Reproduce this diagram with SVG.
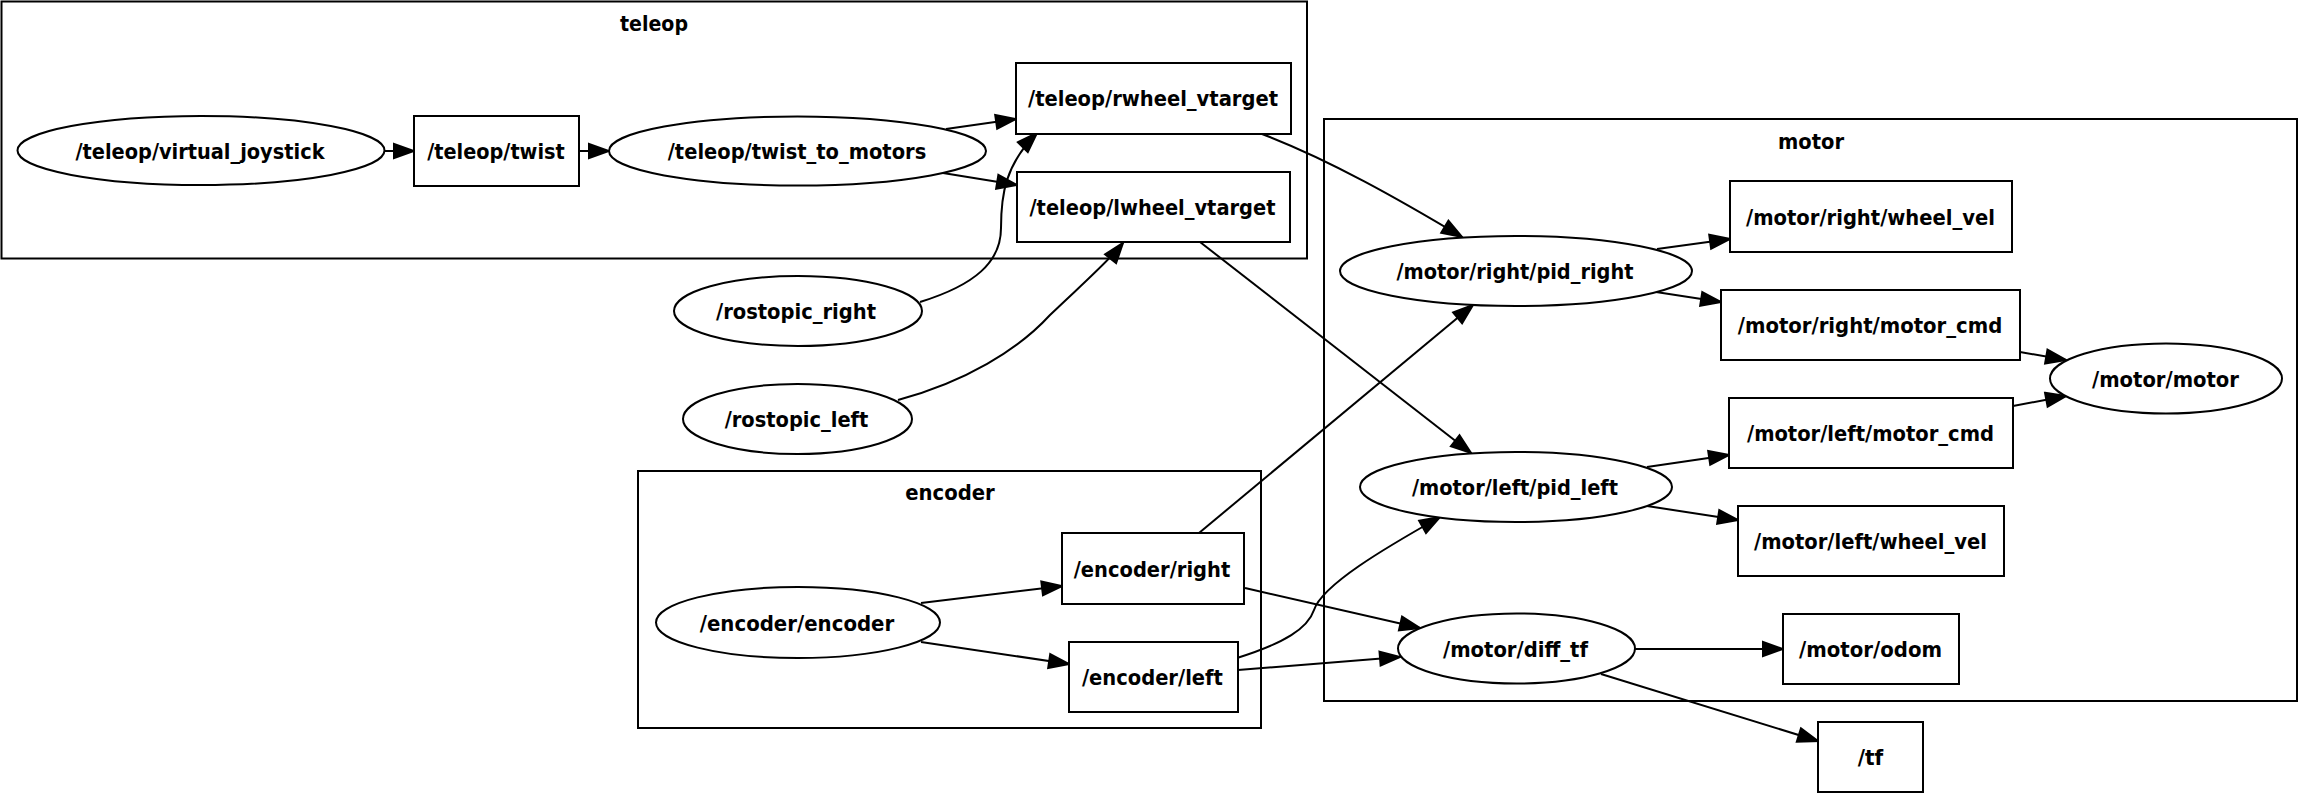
<svg xmlns="http://www.w3.org/2000/svg" width="2300" height="793" viewBox="0 0 2300 793">
<style>
  .cl { fill: none; stroke: #000; stroke-width: 2; }
  .nd { fill: #fff; stroke: #000; stroke-width: 2; }
  .ed { fill: none; stroke: #000; stroke-width: 2; marker-end: url(#arr); }
  text { font-family: "DejaVu Sans Condensed", "DejaVu Sans", sans-serif; font-stretch: condensed; font-weight: bold; font-size: 22px; text-anchor: middle; fill: #000; }
</style>
<defs>
  <marker id="arr" markerUnits="userSpaceOnUse" markerWidth="24" markerHeight="18" refX="20" refY="7" orient="auto" viewBox="-2 -2 24 18">
    <path d="M0,0 L20,7 L0,14 Z" fill="#000" stroke="#000" stroke-width="2" stroke-linejoin="miter"/>
  </marker>
</defs>
<rect width="2300" height="793" fill="#fff"/>

<g id="cluster_teleop">
  <rect class="cl" x="1.5" y="1.5" width="1305.5" height="257"/>
  <text x="654" y="31" textLength="68" lengthAdjust="spacingAndGlyphs">teleop</text>
</g>
<g id="cluster_motor">
  <rect class="cl" x="1324" y="119" width="973" height="582"/>
  <text x="1811" y="149" textLength="66" lengthAdjust="spacingAndGlyphs">motor</text>
</g>
<g id="cluster_encoder">
  <rect class="cl" x="638" y="471" width="623" height="257"/>
  <text x="950" y="500" textLength="89.5" lengthAdjust="spacingAndGlyphs">encoder</text>
</g>

<g id="connectors">
  <path class="ed" d="M385,151 L414,151"/>
  <path class="ed" d="M579,151 L609,151"/>
  <path class="ed" d="M946,129 L1016,119"/>
  <path class="ed" d="M943,173 L1017,185"/>
  <path class="ed" d="M920,302 C975,285 1001,262 1001,228 C1001,195 1005,165 1037,133"/>
  <path class="ed" d="M898,400 C965,382 1018,350 1050,315 C1078,288 1108,262 1123,243"/>
  <path class="ed" d="M1262,134 C1330,160 1400,200 1462,237"/>
  <path class="ed" d="M1200,242 L1471,453"/>
  <path class="ed" d="M1199,533 L1473,305"/>
  <path class="ed" d="M1237,658 C1285,643 1308,628 1314,610 C1322,585 1385,548 1440,517"/>
  <path class="ed" d="M1245,588 L1420,628"/>
  <path class="ed" d="M1238,670 L1400,657"/>
  <path class="ed" d="M921,603 L1062,586"/>
  <path class="ed" d="M921,642 L1069,664"/>
  <path class="ed" d="M1657,249 L1730,239"/>
  <path class="ed" d="M1656,292 L1721,302"/>
  <path class="ed" d="M2020,352 L2066,360"/>
  <path class="ed" d="M2013,406 L2066,396"/>
  <path class="ed" d="M1647,467 L1729,455"/>
  <path class="ed" d="M1647,506 L1738,520"/>
  <path class="ed" d="M1635,649 L1783,649"/>
  <path class="ed" d="M1601,674 L1818,741"/>
</g>

<g id="n_virtual_joystick">
  <ellipse class="nd" cx="201" cy="150.5" rx="183.5" ry="34.5"/>
  <text x="200" y="159" textLength="249" lengthAdjust="spacingAndGlyphs">/teleop/virtual_joystick</text>
</g>
<g id="n_twist">
  <rect class="nd" x="414" y="116" width="165" height="70"/>
  <text x="496" y="159" textLength="137.5" lengthAdjust="spacingAndGlyphs">/teleop/twist</text>
</g>
<g id="n_twist_to_motors">
  <ellipse class="nd" cx="797.5" cy="151" rx="188.5" ry="34.5"/>
  <text x="797" y="159" textLength="258.5" lengthAdjust="spacingAndGlyphs">/teleop/twist_to_motors</text>
</g>
<g id="n_rwheel_vtarget">
  <rect class="nd" x="1016" y="63" width="275" height="71"/>
  <text x="1153" y="106" textLength="250" lengthAdjust="spacingAndGlyphs">/teleop/rwheel_vtarget</text>
</g>
<g id="n_lwheel_vtarget">
  <rect class="nd" x="1017" y="172" width="273" height="70"/>
  <text x="1152.5" y="215" textLength="246" lengthAdjust="spacingAndGlyphs">/teleop/lwheel_vtarget</text>
</g>
<g id="n_rostopic_right">
  <ellipse class="nd" cx="798" cy="311" rx="124" ry="35"/>
  <text x="796" y="319" textLength="160" lengthAdjust="spacingAndGlyphs">/rostopic_right</text>
</g>
<g id="n_rostopic_left">
  <ellipse class="nd" cx="797.5" cy="419" rx="114.5" ry="35"/>
  <text x="796.5" y="427" textLength="143.7" lengthAdjust="spacingAndGlyphs">/rostopic_left</text>
</g>
<g id="n_encoder_encoder">
  <ellipse class="nd" cx="798" cy="622.5" rx="142" ry="35.5"/>
  <text x="797" y="630.5" textLength="194.5" lengthAdjust="spacingAndGlyphs">/encoder/encoder</text>
</g>
<g id="n_encoder_right">
  <rect class="nd" x="1062" y="533" width="182" height="71"/>
  <text x="1152" y="576.5" textLength="156.5" lengthAdjust="spacingAndGlyphs">/encoder/right</text>
</g>
<g id="n_encoder_left">
  <rect class="nd" x="1069" y="642" width="169" height="70"/>
  <text x="1152.4" y="685" textLength="141" lengthAdjust="spacingAndGlyphs">/encoder/left</text>
</g>
<g id="n_pid_right">
  <ellipse class="nd" cx="1516" cy="271" rx="176" ry="35"/>
  <text x="1515" y="279" textLength="237" lengthAdjust="spacingAndGlyphs">/motor/right/pid_right</text>
</g>
<g id="n_right_wheel_vel">
  <rect class="nd" x="1730" y="181" width="282" height="71"/>
  <text x="1870.5" y="224.5" textLength="249" lengthAdjust="spacingAndGlyphs">/motor/right/wheel_vel</text>
</g>
<g id="n_right_motor_cmd">
  <rect class="nd" x="1721" y="290" width="299" height="70"/>
  <text x="1870" y="333" textLength="264.5" lengthAdjust="spacingAndGlyphs">/motor/right/motor_cmd</text>
</g>
<g id="n_motor_motor">
  <ellipse class="nd" cx="2166" cy="378.5" rx="116" ry="35"/>
  <text x="2165.5" y="386.5" textLength="147" lengthAdjust="spacingAndGlyphs">/motor/motor</text>
</g>
<g id="n_left_motor_cmd">
  <rect class="nd" x="1729" y="398" width="284" height="70"/>
  <text x="1870.5" y="441" textLength="247" lengthAdjust="spacingAndGlyphs">/motor/left/motor_cmd</text>
</g>
<g id="n_pid_left">
  <ellipse class="nd" cx="1516" cy="487" rx="156" ry="35"/>
  <text x="1515" y="495" textLength="206" lengthAdjust="spacingAndGlyphs">/motor/left/pid_left</text>
</g>
<g id="n_left_wheel_vel">
  <rect class="nd" x="1738" y="506" width="266" height="70"/>
  <text x="1870.5" y="549" textLength="233" lengthAdjust="spacingAndGlyphs">/motor/left/wheel_vel</text>
</g>
<g id="n_diff_tf">
  <ellipse class="nd" cx="1516.5" cy="648.5" rx="118.5" ry="35"/>
  <text x="1515.5" y="656.5" textLength="145" lengthAdjust="spacingAndGlyphs">/motor/diff_tf</text>
</g>
<g id="n_odom">
  <rect class="nd" x="1783" y="614" width="176" height="70"/>
  <text x="1870.5" y="656.5" textLength="143" lengthAdjust="spacingAndGlyphs">/motor/odom</text>
</g>
<g id="n_tf">
  <rect class="nd" x="1818" y="722" width="105" height="70"/>
  <text x="1870.4" y="765" textLength="25.5" lengthAdjust="spacingAndGlyphs">/tf</text>
</g>
</svg>
